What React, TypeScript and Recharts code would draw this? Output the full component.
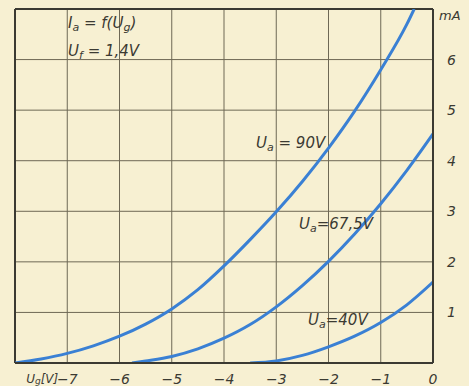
import { LineChart, Line, XAxis, YAxis, CartesianGrid, ReferenceLine } from "recharts";

// grid voltage Ug [V] and anode current Ia [mA]
const ug90 = [-8, -7.5, -7, -6.5, -6, -5.5, -5, -4.5, -4, -3.5, -3, -2.5, -2, -1.5, -1, -0.5, -0.36];
const ia90 = [0, 0.08, 0.19, 0.34, 0.53, 0.77, 1.07, 1.45, 1.92, 2.44, 2.99, 3.59, 4.25, 4.98, 5.8, 6.7, 7.0];

const ug675 = [-5.76, -5.5, -5, -4.5, -4, -3.5, -3, -2.5, -2, -1.5, -1, -0.5, 0];
const ia675 = [0, 0.04, 0.13, 0.28, 0.49, 0.76, 1.11, 1.53, 2.01, 2.55, 3.15, 3.81, 4.53];

const ug40 = [-3.5, -3, -2.5, -2, -1.5, -1, -0.5, 0];
const ia40 = [0, 0.04, 0.15, 0.32, 0.53, 0.8, 1.15, 1.6];

const xTicks = [-7, -6, -5, -4, -3, -2, -1, 0];
const yTicks = [1, 2, 3, 4, 5, 6];

const toPoints = (xs: number[], ys: number[]) => xs.map((x, i) => ({ ug: x, ia: ys[i] }));

const BG = "#f7f0d2";
const INK = "#3b3a32";
const GRID = "#6e6855";
const BLUE = "#3a80d4";
const FONT = "'DejaVu Sans', sans-serif";

function XTick(props: any) {
  const { x, y, payload } = props;
  const v = payload.value as number;
  const txt = v === 0 ? "0" : "\u2212" + Math.abs(v);
  return (
    <g>
      {v === -7 && (
        <text x={x - 9} y={y + 12} textAnchor="end" fontSize={12} fontStyle="italic" fill={INK} fontFamily={FONT}>
          U<tspan fontSize={9} dy={1}>g</tspan>
          <tspan dy={-1}>[V]</tspan>
        </text>
      )}
      <text x={x} y={y + 13} textAnchor="middle" fontSize={14} fontStyle="italic" fill={INK} fontFamily={FONT}>
        {txt}
      </text>
    </g>
  );
}

function YTick(props: any) {
  const { x, y, payload } = props;
  return (
    <text x={x + 6} y={y + 5} fontSize={14} fontStyle="italic" fill={INK} fontFamily={FONT}>
      {payload.value}
    </text>
  );
}

export default function App() {
  const t = { fontFamily: FONT, fontStyle: "italic" as const, fill: INK };
  return (
    <div style={{ position: "fixed", left: 0, top: 0, width: 469, height: 386, background: BG }}>
      <LineChart width={469} height={386} margin={{ top: 9, right: 0, left: 15, bottom: 0 }}>
        <CartesianGrid stroke={GRID} strokeWidth={1} />
        <XAxis
          dataKey="ug"
          type="number"
          domain={[-8, 0]}
          ticks={xTicks}
          height={23}
          axisLine={{ stroke: INK, strokeWidth: 2 }}
          tickLine={false}
          tick={<XTick />}
          allowDataOverflow
        />
        <YAxis
          dataKey="ia"
          type="number"
          orientation="right"
          domain={[0, 7]}
          ticks={yTicks}
          width={36}
          axisLine={{ stroke: INK, strokeWidth: 2 }}
          tickLine={false}
          tick={<YTick />}
          allowDataOverflow
        />
        <ReferenceLine x={-8} stroke={INK} strokeWidth={2} />
        <ReferenceLine y={7} stroke={INK} strokeWidth={2} />
        <Line data={toPoints(ug90, ia90)} dataKey="ia" type="monotone" stroke={BLUE} strokeWidth={3} dot={false} isAnimationActive={false} />
        <Line data={toPoints(ug675, ia675)} dataKey="ia" type="monotone" stroke={BLUE} strokeWidth={3} dot={false} isAnimationActive={false} />
        <Line data={toPoints(ug40, ia40)} dataKey="ia" type="monotone" stroke={BLUE} strokeWidth={3} dot={false} isAnimationActive={false} />
      </LineChart>
      <svg width={469} height={386} style={{ position: "absolute", left: 0, top: 0, pointerEvents: "none" }}>
        <text x={439} y={20} fontSize={13} {...t}>mA</text>
        <text x={68} y={28} fontSize={15} {...t}>
          I<tspan fontSize={11} dy={3}>a</tspan>
          <tspan dy={-3}> = f(U</tspan>
          <tspan fontSize={11} dy={3}>g</tspan>
          <tspan dy={-3}>)</tspan>
        </text>
        <text x={68} y={56} fontSize={15} {...t}>
          U<tspan fontSize={11} dy={3}>f</tspan>
          <tspan dy={-3}> = 1,4V</tspan>
        </text>
        <text x={256} y={148} fontSize={15} {...t}>
          U<tspan fontSize={11} dy={3}>a</tspan>
          <tspan dy={-3}> = 90V</tspan>
        </text>
        <text x={299} y={229} fontSize={15} {...t}>
          U<tspan fontSize={11} dy={3}>a</tspan>
          <tspan dy={-3}>=67,5V</tspan>
        </text>
        <text x={308} y={325} fontSize={15} {...t}>
          U<tspan fontSize={11} dy={3}>a</tspan>
          <tspan dy={-3}>=40V</tspan>
        </text>
      </svg>
    </div>
  );
}
